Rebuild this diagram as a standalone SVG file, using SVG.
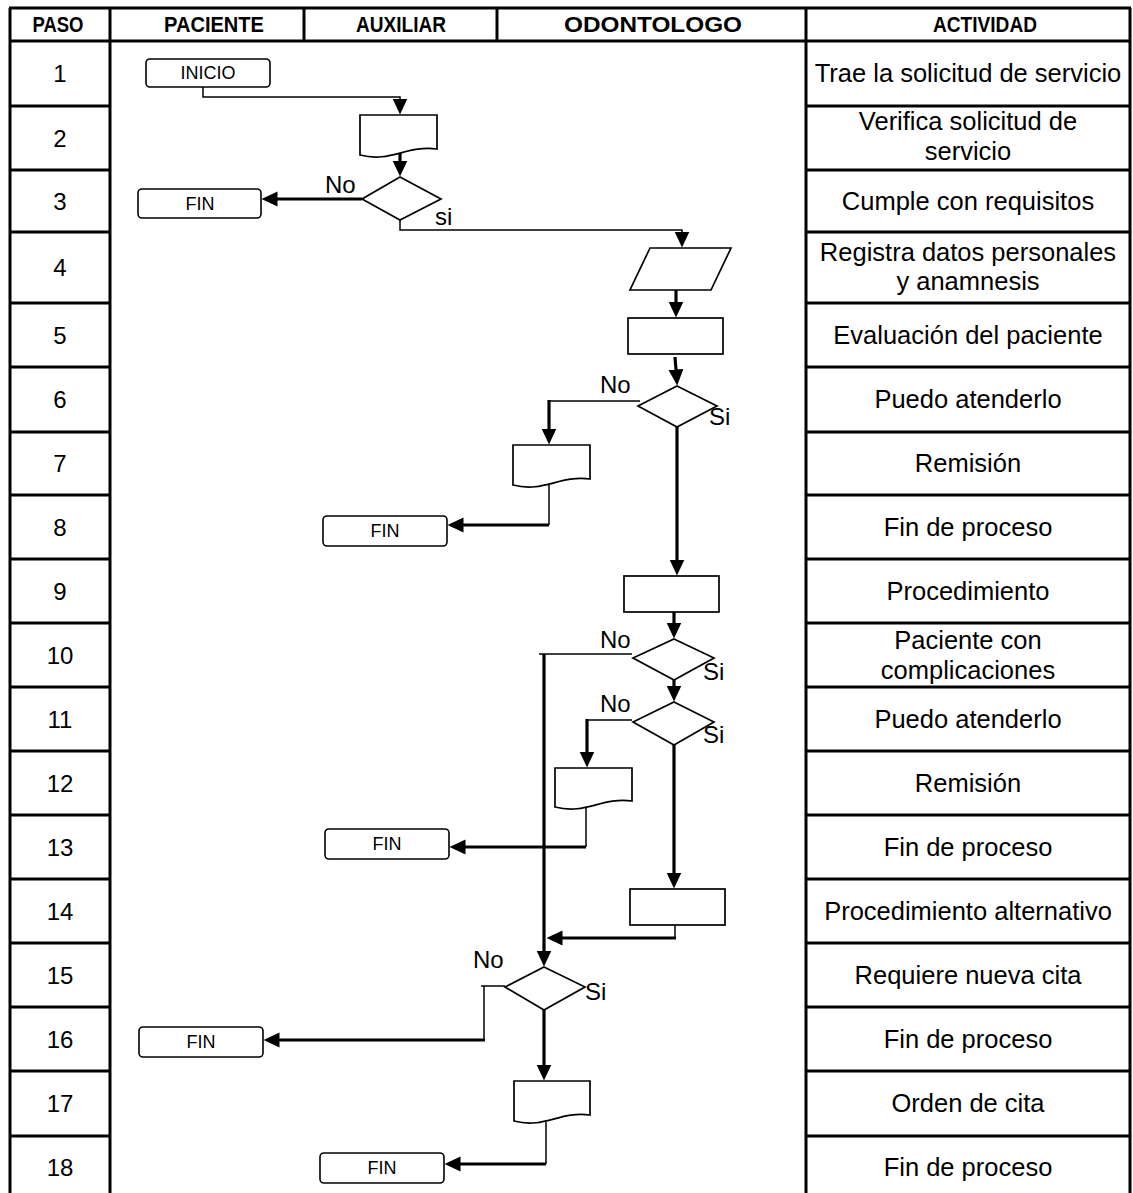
<svg xmlns="http://www.w3.org/2000/svg" width="1133" height="1193" viewBox="0 0 1133 1193">
<style>
.grid{stroke:#000;stroke-width:3;fill:none}
.hdr{font-family:"Liberation Sans",Arial,sans-serif;font-weight:bold;font-size:22px;fill:#000;text-anchor:middle}
.num{font-family:"Liberation Sans",Arial,sans-serif;font-size:24px;fill:#000;text-anchor:middle}
.act{font-family:"Liberation Sans",Arial,sans-serif;font-size:25.5px;fill:#000;text-anchor:middle}
.lbl{font-family:"Liberation Sans",Arial,sans-serif;font-size:24px;fill:#000}
.term{fill:#fff;stroke:#000;stroke-width:1.6}
.termt{font-family:"Liberation Sans",Arial,sans-serif;font-size:18px;fill:#000;text-anchor:middle}
.shape{fill:#fff;stroke:#000;stroke-width:1.7}
.thin{fill:none;stroke:#000;stroke-width:1.5}
.thick{fill:none;stroke:#000;stroke-width:3.2}
</style>
<defs>
<marker id="arr" markerUnits="userSpaceOnUse" markerWidth="17" markerHeight="16" refX="0.5" refY="7.5" orient="auto">
<path d="M0,0 L16,7.5 L0,15 z" fill="#000"/>
</marker>
</defs>
<rect width="1133" height="1193" fill="#fff"/>
<g id="table">
<line class="grid" x1="9" y1="8" x2="1131" y2="8"/>
<line class="grid" x1="9" y1="41" x2="1131" y2="41"/>
<line class="grid" x1="10" y1="8" x2="10" y2="1193"/>
<line class="grid" x1="110" y1="8" x2="110" y2="1193"/>
<line class="grid" x1="304" y1="8" x2="304" y2="41"/>
<line class="grid" x1="497" y1="8" x2="497" y2="41"/>
<line class="grid" x1="806" y1="8" x2="806" y2="1193"/>
<line class="grid" x1="1130" y1="8" x2="1130" y2="1193"/>
<path class="grid" d="M10 106H110M10 170H110M10 232H110M10 303H110M10 367H110M10 432H110M10 495H110M10 559H110M10 623H110M10 687H110M10 751H110M10 815H110M10 879H110M10 943H110M10 1007H110M10 1071H110M10 1136H110"/>
<path class="grid" d="M806 106H1130M806 170H1130M806 232H1130M806 303H1130M806 367H1130M806 432H1130M806 495H1130M806 559H1130M806 623H1130M806 687H1130M806 751H1130M806 815H1130M806 879H1130M806 943H1130M806 1007H1130M806 1071H1130M806 1136H1130"/>
<text class="hdr" x="58" y="32" textLength="51" lengthAdjust="spacingAndGlyphs">PASO</text>
<text class="hdr" x="214" y="32" textLength="100" lengthAdjust="spacingAndGlyphs">PACIENTE</text>
<text class="hdr" x="401" y="32" textLength="90" lengthAdjust="spacingAndGlyphs">AUXILIAR</text>
<text class="hdr" x="653" y="32" textLength="178" lengthAdjust="spacingAndGlyphs">ODONTOLOGO</text>
<text class="hdr" x="985" y="32" textLength="104" lengthAdjust="spacingAndGlyphs">ACTIVIDAD</text>
<text class="num" x="60" y="82">1</text>
<text class="num" x="60" y="147">2</text>
<text class="num" x="60" y="210">3</text>
<text class="num" x="60" y="276">4</text>
<text class="num" x="60" y="344">5</text>
<text class="num" x="60" y="408">6</text>
<text class="num" x="60" y="472">7</text>
<text class="num" x="60" y="536">8</text>
<text class="num" x="60" y="600">9</text>
<text class="num" x="60" y="664">10</text>
<text class="num" x="60" y="728">11</text>
<text class="num" x="60" y="792">12</text>
<text class="num" x="60" y="856">13</text>
<text class="num" x="60" y="920">14</text>
<text class="num" x="60" y="984">15</text>
<text class="num" x="60" y="1048">16</text>
<text class="num" x="60" y="1112">17</text>
<text class="num" x="60" y="1176">18</text>
<text class="act" x="968" y="82">Trae la solicitud de servicio</text>
<text class="act" x="968" y="130">Verifica solicitud de</text>
<text class="act" x="968" y="160">servicio</text>
<text class="act" x="968" y="210">Cumple con requisitos</text>
<text class="act" x="968" y="261">Registra datos personales</text>
<text class="act" x="968" y="290">y anamnesis</text>
<text class="act" x="968" y="344">Evaluación del paciente</text>
<text class="act" x="968" y="408">Puedo atenderlo</text>
<text class="act" x="968" y="472">Remisión</text>
<text class="act" x="968" y="536">Fin de proceso</text>
<text class="act" x="968" y="600">Procedimiento</text>
<text class="act" x="968" y="649">Paciente con</text>
<text class="act" x="968" y="679">complicaciones</text>
<text class="act" x="968" y="728">Puedo atenderlo</text>
<text class="act" x="968" y="792">Remisión</text>
<text class="act" x="968" y="856">Fin de proceso</text>
<text class="act" x="968" y="920">Procedimiento alternativo</text>
<text class="act" x="968" y="984">Requiere nueva cita</text>
<text class="act" x="968" y="1048">Fin de proceso</text>
<text class="act" x="968" y="1112">Orden de cita</text>
<text class="act" x="968" y="1176">Fin de proceso</text>
</g>
<g id="connectors">
<polyline class="thin" points="203,87 203,97 400,97 400,99" marker-end="url(#arr)"/>
<line class="thick" x1="400" y1="153" x2="400" y2="161" marker-end="url(#arr)"/>
<line class="thick" x1="362" y1="199" x2="277" y2="199" marker-end="url(#arr)"/>
<polyline class="thin" points="400,220 400,230 682,230 682,232" marker-end="url(#arr)"/>
<line class="thick" x1="676" y1="290" x2="676" y2="302" marker-end="url(#arr)"/>
<line class="thick" x1="675" y1="357" x2="676" y2="370" marker-end="url(#arr)"/>
<polyline class="thin" points="640,401 549,401"/>
<line class="thick" x1="549" y1="400" x2="549" y2="429" marker-end="url(#arr)"/>
<line class="thin" x1="549" y1="484" x2="549" y2="525"/>
<line class="thick" x1="549" y1="525" x2="463" y2="525" marker-end="url(#arr)"/>
<line class="thick" x1="677" y1="427" x2="677" y2="560" marker-end="url(#arr)"/>
<line class="thick" x1="674" y1="612" x2="674" y2="623" marker-end="url(#arr)"/>
<line class="thin" x1="632" y1="654" x2="539" y2="654"/>
<line class="thick" x1="544" y1="654" x2="544" y2="951" marker-end="url(#arr)"/>
<line class="thick" x1="674" y1="680" x2="674" y2="686" marker-end="url(#arr)"/>
<line class="thin" x1="632" y1="720" x2="587" y2="720"/>
<line class="thick" x1="587" y1="719" x2="587" y2="752" marker-end="url(#arr)"/>
<line class="thin" x1="586" y1="807" x2="586" y2="847"/>
<line class="thick" x1="586" y1="847" x2="465" y2="847" marker-end="url(#arr)"/>
<line class="thick" x1="674" y1="745" x2="674" y2="873" marker-end="url(#arr)"/>
<line class="thin" x1="675" y1="925" x2="675" y2="938"/>
<line class="thick" x1="676" y1="938" x2="562" y2="938" marker-end="url(#arr)"/>
<line class="thin" x1="481" y1="986" x2="505" y2="986"/>
<line class="thin" x1="484" y1="986" x2="484" y2="1040"/>
<line class="thick" x1="485" y1="1040" x2="279" y2="1040" marker-end="url(#arr)"/>
<line class="thick" x1="544" y1="1010" x2="544" y2="1065" marker-end="url(#arr)"/>
<line class="thin" x1="546" y1="1122" x2="546" y2="1164"/>
<line class="thick" x1="546" y1="1164" x2="460" y2="1164" marker-end="url(#arr)"/>
</g>
<g id="inicio">
<rect class="term" x="146" y="59" width="124" height="28" rx="4"/>
<text class="termt" x="208" y="79">INICIO</text>
</g>
<g id="doc2">
<path class="shape" d="M360,115 H437 V149 C406,145 391,163 360,155 Z"/>
</g>
<g id="dec3">
<polygon class="shape" points="400,177 441,199 400,220 362,199"/>
</g>
<g id="fin3">
<rect class="term" x="138" y="189" width="123" height="29" rx="4"/>
<text class="termt" x="200" y="210">FIN</text>
</g>
<g id="io4">
<polygon class="shape" points="650,248 731,248 711,290 630,290"/>
</g>
<g id="proc5">
<rect class="shape" x="628" y="318" width="95" height="36"/>
</g>
<g id="dec6">
<polygon class="shape" points="677,386 717,406 677,427 638,406"/>
</g>
<g id="doc7">
<path class="shape" d="M513,445 H590 V479 C559,475 544,493 513,485 Z"/>
</g>
<g id="fin8">
<rect class="term" x="323" y="516" width="124" height="30" rx="4"/>
<text class="termt" x="385" y="537">FIN</text>
</g>
<g id="proc9">
<rect class="shape" x="624" y="576" width="95" height="36"/>
</g>
<g id="dec10">
<polygon class="shape" points="674,639 714,658 674,680 633,658"/>
</g>
<g id="dec11">
<polygon class="shape" points="674,702 714,722 674,745 633,722"/>
</g>
<g id="doc12">
<path class="shape" d="M555,768 H632 V801 C601,797 586,815 555,807 Z"/>
</g>
<g id="fin13">
<rect class="term" x="325" y="829" width="124" height="30" rx="4"/>
<text class="termt" x="387" y="850">FIN</text>
</g>
<g id="proc14">
<rect class="shape" x="630" y="889" width="95" height="36"/>
</g>
<g id="dec15">
<polygon class="shape" points="544,967 585,987 544,1010 505,987"/>
</g>
<g id="fin16">
<rect class="term" x="139" y="1027" width="124" height="30" rx="4"/>
<text class="termt" x="201" y="1048">FIN</text>
</g>
<g id="doc17">
<path class="shape" d="M514,1081 H590 V1115 C559,1111 545,1129 514,1121 Z"/>
</g>
<g id="fin18">
<rect class="term" x="320" y="1153" width="124" height="30" rx="4"/>
<text class="termt" x="382" y="1174">FIN</text>
</g>
<g id="labels">
<text class="lbl" x="325" y="193">No</text>
<text class="lbl" x="435" y="225">si</text>
<text class="lbl" x="600" y="393">No</text>
<text class="lbl" x="709" y="425">Si</text>
<text class="lbl" x="600" y="648">No</text>
<text class="lbl" x="703" y="680">Si</text>
<text class="lbl" x="600" y="712">No</text>
<text class="lbl" x="703" y="743">Si</text>
<text class="lbl" x="473" y="968">No</text>
<text class="lbl" x="585" y="1000">Si</text>
</g>
</svg>
